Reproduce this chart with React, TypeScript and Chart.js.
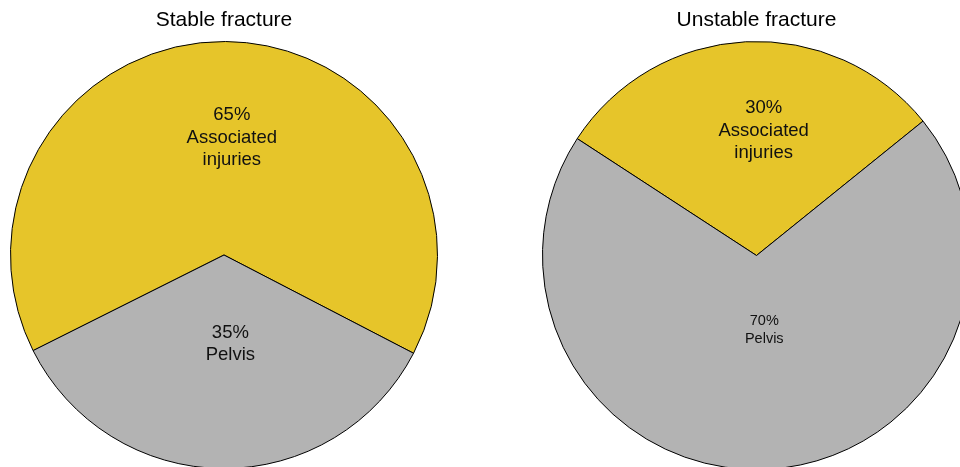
import React, { useEffect, useRef } from "react";
import { Chart, registerables } from "chart.js";

Chart.register(...registerables);

const categories = ["Associated injuries", "Pelvis"];
const labelLines = [["Associated", "injuries"], ["Pelvis"]];
const stableValues = [65, 35];
const unstableValues = [30, 70];
const titles = ["Stable fracture", "Unstable fracture"];
const sliceColors = ["#E6C52A", "#B3B3B3"];

const FONT = "'Liberation Sans', Arial, Helvetica, sans-serif";

type SliceLabelOpts = {
  fracs: number[];
  shifts: number[];
  sizes: number[];
  lineHeights: number[];
};

const sliceLabelPlugin = {
  id: "sliceLabels",
  afterDatasetsDraw(chart: any, _args: any, opts: SliceLabelOpts) {
    const ctx = chart.ctx;
    const meta = chart.getDatasetMeta(0);
    const data = chart.data.datasets[0].data as number[];
    const total = data.reduce((a, b) => a + b, 0);
    ctx.save();
    ctx.fillStyle = "#111";
    ctx.textAlign = "center";
    ctx.textBaseline = "middle";
    meta.data.forEach((arc: any, i: number) => {
      const { x, y, startAngle, endAngle, outerRadius } = arc.getProps(
        ["x", "y", "startAngle", "endAngle", "outerRadius"],
        true
      );
      const mid = (startAngle + endAngle) / 2;
      const r = outerRadius * opts.fracs[i];
      const cx = x + r * Math.cos(mid) + opts.shifts[i];
      const cy = y + r * Math.sin(mid);
      const pct = Math.round((data[i] / total) * 100) + "%";
      const lines = [pct, ...labelLines[i]];
      const lh = opts.lineHeights[i];
      ctx.font = `${opts.sizes[i]}px ${FONT}`;
      const top = cy - ((lines.length - 1) * lh) / 2;
      lines.forEach((t, k) => ctx.fillText(t, cx, top + k * lh));
    });
    ctx.restore();
  },
};

function PieChart(props: {
  values: number[];
  title: string;
  rotation: number;
  width: number;
  height: number;
  left: number;
  padBottom: number;
  labelOpts: SliceLabelOpts;
}) {
  const ref = useRef<HTMLCanvasElement>(null);
  useEffect(() => {
    const chart = new Chart(ref.current as HTMLCanvasElement, {
      type: "pie",
      data: {
        labels: categories,
        datasets: [
          {
            data: props.values,
            backgroundColor: sliceColors,
            borderColor: "#000000",
            borderWidth: 1,
            hoverOffset: 0,
          },
        ],
      },
      options: {
        responsive: false,
        animation: false,
        rotation: props.rotation,
        layout: { padding: 0 },
        plugins: {
          legend: { display: false },
          tooltip: { enabled: false },
          title: {
            display: true,
            text: props.title,
            color: "#000",
            font: { family: FONT, size: 21, weight: "normal", lineHeight: 1.2 },
            padding: { top: 7.4, bottom: props.padBottom },
          },
          sliceLabels: props.labelOpts,
        } as any,
      },
      plugins: [sliceLabelPlugin],
    });
    return () => chart.destroy();
  }, []);
  return (
    <canvas
      ref={ref}
      width={props.width}
      height={props.height}
      style={{ position: "absolute", left: props.left, top: 0, width: props.width, height: props.height }}
    />
  );
}

export default function App() {
  return (
    <div
      style={{
        position: "fixed",
        left: 0,
        top: 0,
        width: 960,
        height: 467,
        overflow: "hidden",
        background: "#fff",
      }}
    >
      <PieChart
        values={stableValues}
        title={titles[0]}
        rotation={243.4}
        width={428}
        height={469}
        left={10}
        padBottom={8.4}
        labelOpts={{ fracs: [0.55, 0.417], shifts: [7, 7], sizes: [18.5, 18.5], lineHeights: [22.5, 22.5] }}
      />
      <PieChart
        values={unstableValues}
        title={titles[1]}
        rotation={303.1}
        width={429}
        height={470}
        left={542}
        padBottom={8.4}
        labelOpts={{ fracs: [0.585, 0.348], shifts: [13.5, 4], sizes: [18.5, 14.5], lineHeights: [22.5, 18] }}
      />
    </div>
  );
}
